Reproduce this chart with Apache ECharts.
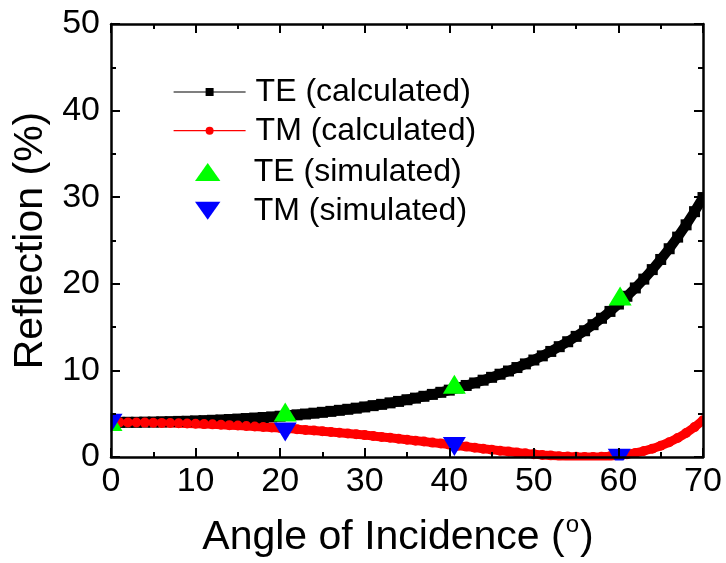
<!DOCTYPE html>
<html>
<head>
<meta charset="utf-8">
<script src="https://cdn.jsdelivr.net/npm/echarts@6/dist/echarts.min.js"></script>
<style>
html,body{margin:0;padding:0;background:#fff;}
#chart{width:726px;height:563px;}
</style>
</head>
<body>
<div id="chart"></div>
<script>
// Angle of incidence (degrees) for the calculated curves
var angles = [0,1,2,3,4,5,6,7,8,9,10,11,12,13,14,15,16,17,18,19,20,21,22,23,24,25,26,27,28,29,30,31,32,33,34,35,36,37,38,39,40,41,42,43,44,45,46,47,48,49,50,51,52,53,54,55,56,57,58,59,60,61,62,63,64,65,66,67,68,69,70];
// TE (calculated) reflection, %
var teCalc = [4.00,4.00,4.01,4.01,4.03,4.04,4.06,4.08,4.11,4.13,
  4.17,4.20,4.24,4.28,4.33,4.38,4.44,4.50,4.56,4.63,
  4.71,4.79,4.87,4.96,5.06,5.16,5.27,5.39,5.51,5.64,
  5.78,5.93,6.08,6.25,6.42,6.61,6.80,7.01,7.23,7.47,
  7.72,7.98,8.26,8.55,8.87,9.20,9.56,9.93,10.33,10.75,
  11.20,11.68,12.19,12.74,13.31,13.93,14.58,15.28,16.02,16.81,
  17.66,18.56,19.52,20.54,21.64,22.81,24.05,25.39,26.81,28.33,29.96];
// TM (calculated) reflection, %
var tmCalc = [4.00,4.00,3.99,3.99,3.97,3.96,3.94,3.92,3.90,3.87,
  3.84,3.80,3.77,3.72,3.68,3.63,3.58,3.53,3.47,3.41,
  3.35,3.28,3.21,3.13,3.06,2.98,2.89,2.80,2.71,2.62,
  2.53,2.43,2.32,2.22,2.11,2.00,1.89,1.78,1.66,1.55,
  1.43,1.31,1.20,1.08,0.96,0.85,0.73,0.63,0.52,0.42,
  0.33,0.24,0.17,0.10,0.05,0.02,0.00,0.01,0.03,0.09,
  0.18,0.31,0.47,0.69,0.96,1.30,1.70,2.19,2.77,3.45,4.25];
// Simulated points
var simAnglesTE = [0, 20.6, 40.6, 60.2];
var teSim = [4.1, 5.2, 8.4, 18.6];
var simAnglesTM = [0, 20.6, 40.6, 60.1];
var tmSim = [3.9, 2.9, 1.2, -0.15];
// Axis ticks
var xMin = 0, xMax = 70, xStep = 10;
var yMin = 0, yMax = 50, yStep = 10;
var seriesNames = ['TE (calculated)', 'TM (calculated)', 'TE (simulated)', 'TM (simulated)'];
var xTitle = 'Angle of Incidence ({sup|o})';
var yTitle = 'Reflection (%)';

function pairs(xs, ys) { return xs.map(function (x, i) { return [x, ys[i]]; }); }

var FONT = '"Liberation Sans", Arial, Helvetica, sans-serif';
var chart = echarts.init(document.getElementById('chart'), null, {renderer: 'canvas'});

function axisCommon(extra) {
  var base = {
    type: 'value',
    z: 10,
    splitLine: {show: false},
    axisLine: {show: true, onZero: false, lineStyle: {color: '#000', width: 2.5}},
    axisTick: {show: true, inside: true, length: 9, lineStyle: {color: '#000', width: 2}},
    minorTick: {show: true, splitNumber: 2, length: 5, lineStyle: {color: '#000', width: 2}},
    axisLabel: {show: false}
  };
  return Object.assign(base, extra);
}

var option = {
  animation: false,
  backgroundColor: '#fff',
  grid: {left: 111, right: 23, top: 24, bottom: 104},
  xAxis: [
    axisCommon({
      position: 'bottom', min: xMin, max: xMax, interval: xStep,
      axisLabel: {show: true, fontSize: 34, color: '#000', fontFamily: FONT, margin: 8},
      name: xTitle, nameLocation: 'middle', nameGap: 60,
      nameTextStyle: {fontSize: 41, lineHeight: 41, color: '#000', fontFamily: FONT, padding: [0, 18, 0, 0],
        rich: {sup: {fontSize: 24, fontFamily: FONT, color: '#000', verticalAlign: 'bottom', lineHeight: 20, padding: [0, 1, 21, 1]}}}
    }),
    axisCommon({position: 'top', min: xMin, max: xMax, interval: xStep})
  ],
  yAxis: [
    axisCommon({
      position: 'left', min: yMin, max: yMax, interval: yStep,
      axisLabel: {show: true, fontSize: 34, color: '#000', fontFamily: FONT, margin: 11},
      name: yTitle, nameLocation: 'middle', nameGap: 56,
      nameTextStyle: {fontSize: 41, color: '#000', fontFamily: FONT}
    }),
    axisCommon({position: 'right', min: yMin, max: yMax, interval: yStep})
  ],
  legend: [
    {
      orient: 'vertical', left: 173, top: 75, padding: 0,
      itemWidth: 72, itemHeight: 10, itemGap: 4.7, selectedMode: false,
      data: [seriesNames[0], seriesNames[1]],
      lineStyle: {width: 1.2},
      textStyle: {fontSize: 32, fontFamily: FONT, color: '#000', lineHeight: 34, padding: [0, 0, 0, 5]}
    },
    {
      orient: 'vertical', left: 195, top: 155, padding: 0,
      itemWidth: 72, itemHeight: 18, itemGap: 4.7, selectedMode: false, symbolKeepAspect: true,
      data: [
        {name: seriesNames[2], icon: 'path://M12,0L24,17L0,17Z'},
        {name: seriesNames[3], icon: 'path://M0,0L24,0L12,17Z'}
      ],
      textStyle: {fontSize: 32, fontFamily: FONT, color: '#000', lineHeight: 34, padding: [0, 0, 0, 5]}
    }
  ],
  graphic: {
    elements: [
      {type: 'rect', z: 5, silent: true, shape: {x: 0, y: 460.5, width: 726, height: 9}, style: {fill: '#fff'}},
      {type: 'rect', z: 5, silent: true, shape: {x: 98, y: 0, width: 12.5, height: 470}, style: {fill: '#fff'}},
      {type: 'rect', z: 5, silent: true, shape: {x: 704, y: 0, width: 22, height: 470}, style: {fill: '#fff'}}
    ]
  },
  series: [
    {
      name: seriesNames[0], type: 'line', z: 2, data: pairs(angles, teCalc),
      symbol: 'rect', symbolSize: 11, showSymbol: true,
      itemStyle: {color: '#000'},
      lineStyle: {color: '#000', width: 10}
    },
    {
      name: seriesNames[1], type: 'line', z: 2, data: pairs(angles, tmCalc),
      symbol: 'circle', symbolSize: 10, showSymbol: true,
      itemStyle: {color: '#ff0000'},
      lineStyle: {color: '#ff0000', width: 9}
    },
    {
      name: seriesNames[2], type: 'scatter', z: 4, data: pairs(simAnglesTE, teSim), clip: false,
      symbol: 'triangle', symbolSize: [23, 19],
      itemStyle: {color: '#00ff00', opacity: 1}
    },
    {
      name: seriesNames[3], type: 'scatter', z: 4, data: pairs(simAnglesTM, tmSim), clip: false,
      symbol: 'triangle', symbolRotate: 180, symbolSize: [23, 19],
      itemStyle: {color: '#0000ff', opacity: 1}
    }
  ]
};
chart.setOption(option);
</script>
</body>
</html>
